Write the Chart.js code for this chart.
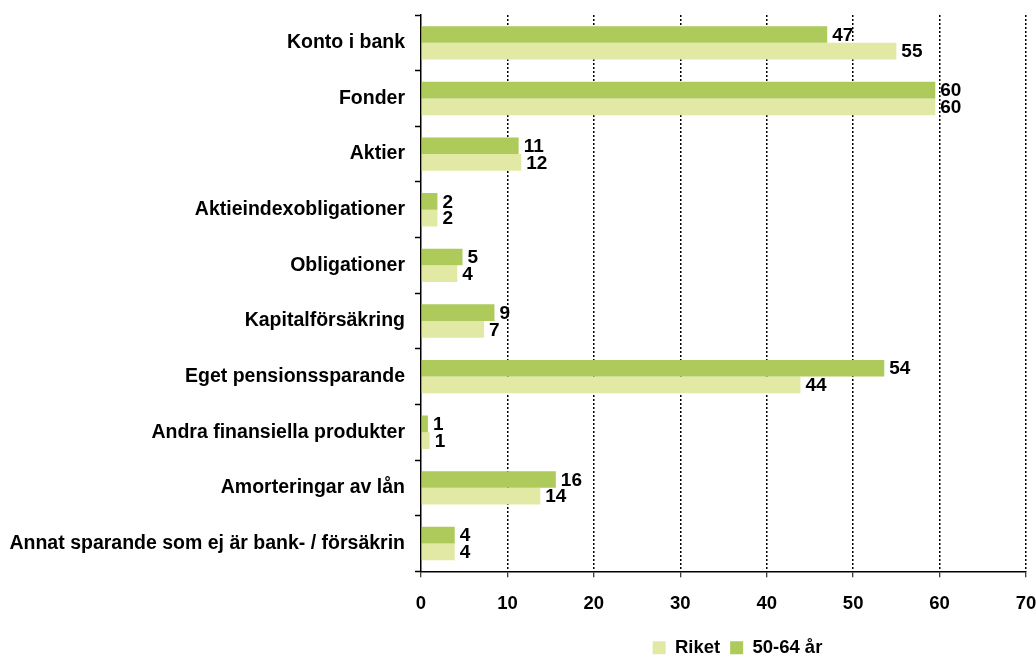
<!DOCTYPE html>
<html>
<head>
<meta charset="utf-8">
<script src="https://cdn.jsdelivr.net/npm/chart.js@4.4.1/dist/chart.umd.min.js"></script>
<style>
    html, body { margin: 0; padding: 0; background: #fff; }
    #wrap { width: 1036px; height: 657px; }
</style>
</head>
<body>
<div id="wrap"><canvas id="bar_chart"></canvas></div>
<script>
// categories and values
const categories = [
    'Konto i bank',
    'Fonder',
    'Aktier',
    'Aktieindexobligationer',
    'Obligationer',
    'Kapitalförsäkring',
    'Eget pensionssparande',
    'Andra finansiella produkter',
    'Amorteringar av lån',
    'Annat sparande som ej är bank- / försäkrin'
];
const age5064 = [47, 59.5, 11.3, 1.9, 4.8, 8.5, 53.6, 0.8, 15.6, 3.9];
const riket = [55, 59.5, 11.6, 1.9, 4.2, 7.3, 43.9, 1.0, 13.8, 3.9];
const xTicks = [0, 10, 20, 30, 40, 50, 60, 70];

const FONT = 'Liberation Sans, Arial, sans-serif';

// writes the rounded value just right of each bar
const valueLabels = {
    id: 'valueLabels',
    afterDatasetsDraw(chart) {
        const ctx = chart.ctx;
        ctx.save();
        ctx.font = 'bold 19px ' + FONT;
        ctx.fillStyle = '#000';
        ctx.textBaseline = 'middle';
        ctx.textAlign = 'left';
        chart.data.datasets.forEach(function (ds, i) {
            const meta = chart.getDatasetMeta(i);
            meta.data.forEach(function (bar, j) {
                ctx.fillText(String(Math.round(ds.data[j])), bar.x + 5, bar.y + 1);
            });
        });
        ctx.restore();
    }
};

// nudge the legend so it sits where the reference has it
const legendShift = {
    id: 'legendShift',
    afterLayout(chart) {
        const lg = chart.legend;
        if (lg) {
            lg.left += 14;
            lg.right += 14;
        }
    }
};

const ctx1 = document.getElementById('bar_chart').getContext('2d');
var chart1 = new Chart(ctx1, {
    type: 'bar',
    data: {
        labels: categories,
        datasets: [{
            label: '50-64 år',
            data: age5064,
            backgroundColor: '#adca5b',
            categoryPercentage: 0.6,
            barPercentage: 1.0
        }, {
            label: 'Riket',
            data: riket,
            backgroundColor: '#e2e9a5',
            categoryPercentage: 0.6,
            barPercentage: 1.0
        }]
    },
    options: {
        indexAxis: 'y',
        responsive: true,
        maintainAspectRatio: false,
        animation: false,
        layout: {
            padding: { top: 15, right: 0, left: 0, bottom: -10 }
        },
        scales: {
            x: {
                min: 0,
                max: 70,
                afterBuildTicks: function (scale) {
                    scale.ticks = xTicks.map(v => ({ value: v }));
                },
                afterFit: function (scale) {
                    scale.paddingLeft = 0;
                    scale.paddingRight = 10;
                    scale.height -= 3;
                },
                grid: {
                    color: c => (c.tick && c.tick.value === 0) ? 'rgba(0,0,0,0)' : '#000',
                    lineWidth: 1.5,
                    tickColor: '#000',
                    tickWidth: 1,
                    tickLength: 6
                },
                border: { color: '#000', width: 1.5, dash: [2, 2] },
                ticks: {
                    color: '#000',
                    padding: 16,
                    maxRotation: 0,
                    font: { family: FONT, size: 18.5, weight: 'bold' }
                }
            },
            y: {
                afterFit: function (scale) {
                    scale.width = 421;
                    scale.paddingTop = 0;
                    scale.paddingBottom = 0;
                },
                grid: {
                    offset: true,
                    drawOnChartArea: false,
                    tickColor: '#000',
                    tickLength: 6,
                    tickWidth: 1.5
                },
                border: { color: '#000', width: 1.5 },
                ticks: {
                    color: '#000',
                    padding: 10,
                    autoSkip: false,
                    font: { family: FONT, size: 19.5, weight: 'bold' }
                }
            }
        },
        plugins: {
            legend: {
                position: 'bottom',
                fullSize: false,
                reverse: true,
                labels: {
                    color: '#000',
                    boxWidth: 13,
                    boxHeight: 13,
                    padding: 10,
                    font: { family: FONT, size: 18.5, weight: 'bold' }
                }
            },
            tooltip: { enabled: false }
        }
    },
    plugins: [valueLabels, legendShift]
});
</script>
</body>
</html>
